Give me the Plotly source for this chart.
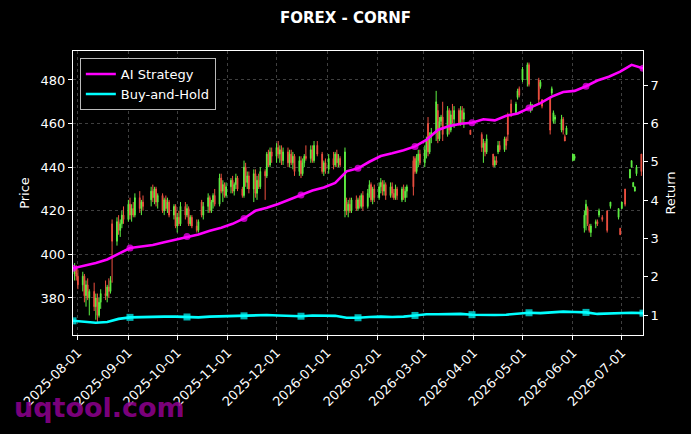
import pandas as pd
import plotly.graph_objects as go

# daily candles (trading days with gaps, as in the source chart)
dates = [
    # Jul / Aug 2025
    "2025-07-30", "2025-07-31", "2025-08-01", "2025-08-04", "2025-08-05", "2025-08-06",
    "2025-08-07", "2025-08-08", "2025-08-11", "2025-08-12", "2025-08-13", "2025-08-14",
    "2025-08-15", "2025-08-18", "2025-08-19", "2025-08-20", "2025-08-21", "2025-08-22",
    "2025-08-25", "2025-08-26", "2025-08-27", "2025-08-28", "2025-08-29",
    # Sep
    "2025-09-01", "2025-09-02", "2025-09-03", "2025-09-04", "2025-09-05", "2025-09-08",
    "2025-09-09", "2025-09-10", "2025-09-15", "2025-09-16", "2025-09-17", "2025-09-18",
    "2025-09-19", "2025-09-22", "2025-09-23", "2025-09-24", "2025-09-25", "2025-09-26",
    "2025-09-29", "2025-09-30",
    # Oct
    "2025-10-01", "2025-10-02", "2025-10-03", "2025-10-06", "2025-10-07", "2025-10-08",
    "2025-10-09", "2025-10-10", "2025-10-13", "2025-10-14", "2025-10-16", "2025-10-17",
    "2025-10-20", "2025-10-21", "2025-10-22", "2025-10-23", "2025-10-24", "2025-10-27",
    "2025-10-28", "2025-10-29", "2025-10-30", "2025-10-31",
    # Nov
    "2025-11-03", "2025-11-04", "2025-11-05", "2025-11-06", "2025-11-07", "2025-11-10",
    "2025-11-11", "2025-11-12", "2025-11-13", "2025-11-14", "2025-11-17", "2025-11-18",
    "2025-11-19", "2025-11-20", "2025-11-21", "2025-11-24", "2025-11-25", "2025-11-26",
    "2025-11-27", "2025-11-28",
    # Dec
    "2025-12-01", "2025-12-02", "2025-12-03", "2025-12-04", "2025-12-05", "2025-12-08",
    "2025-12-09", "2025-12-10", "2025-12-11", "2025-12-12", "2025-12-15", "2025-12-16",
    "2025-12-17", "2025-12-18", "2025-12-19", "2025-12-22", "2025-12-23", "2025-12-24",
    "2025-12-26", "2025-12-29", "2025-12-30", "2025-12-31",
    # Jan 2026
    "2026-01-02", "2026-01-05", "2026-01-06", "2026-01-07", "2026-01-08", "2026-01-09",
    "2026-01-12", "2026-01-13", "2026-01-14", "2026-01-15", "2026-01-16", "2026-01-19",
    "2026-01-20", "2026-01-21", "2026-01-22", "2026-01-23", "2026-01-26", "2026-01-27",
    "2026-01-28", "2026-01-29", "2026-01-30",
    # Feb
    "2026-02-02", "2026-02-03", "2026-02-04", "2026-02-05", "2026-02-06", "2026-02-09",
    "2026-02-10", "2026-02-11", "2026-02-12", "2026-02-13", "2026-02-16", "2026-02-17",
    "2026-02-18", "2026-02-19", "2026-02-23", "2026-02-24", "2026-02-25", "2026-02-26",
    "2026-02-27",
    # Mar
    "2026-03-02", "2026-03-03", "2026-03-04", "2026-03-05", "2026-03-06", "2026-03-09",
    "2026-03-10", "2026-03-11", "2026-03-12", "2026-03-13", "2026-03-16", "2026-03-17",
    "2026-03-18", "2026-03-19", "2026-03-20", "2026-03-23", "2026-03-24", "2026-03-25",
    "2026-03-26", "2026-03-30",
    # Apr
    "2026-04-06", "2026-04-07", "2026-04-08", "2026-04-09", "2026-04-13", "2026-04-14",
    "2026-04-15", "2026-04-16", "2026-04-17", "2026-04-20", "2026-04-21", "2026-04-22",
    "2026-04-24", "2026-04-27", "2026-04-28", "2026-04-29",
    # May
    "2026-05-01", "2026-05-04", "2026-05-05", "2026-05-06", "2026-05-07", "2026-05-11",
    "2026-05-12", "2026-05-13", "2026-05-18", "2026-05-19", "2026-05-20", "2026-05-21",
    "2026-05-25", "2026-05-26", "2026-05-27", "2026-05-28",
    # Jun
    "2026-06-01", "2026-06-02", "2026-06-08", "2026-06-09", "2026-06-10", "2026-06-11",
    "2026-06-12", "2026-06-15", "2026-06-16", "2026-06-17", "2026-06-19", "2026-06-22",
    "2026-06-24", "2026-06-29", "2026-06-30",
    # Jul
    "2026-07-01", "2026-07-03", "2026-07-06", "2026-07-07", "2026-07-08", "2026-07-09",
    "2026-07-10", "2026-07-13",
]

opens = [
    391, 394, 390, 386, 390, 381, 386, 380, 383, 376, 380, 372, 378, 382, 381, 385, 383, 414, 406, 415, 411, 414, 418,
    416, 423, 418, 421, 418, 426, 421, 424, 425, 429, 426, 430, 424, 427, 420, 425, 421, 424, 418, 422,
    413, 417, 414, 422, 418, 421, 414, 417, 413, 411, 424, 418, 422, 426, 420, 424, 427, 423, 435, 429, 432, 427,
    431, 434, 429, 432, 435, 430, 427, 440, 433, 436, 430, 437, 428, 434, 431, 438, 436, 446, 441, 447,
    445, 449, 446, 448, 443, 447, 442, 446, 442, 445, 438, 443, 437, 442, 445, 444, 448, 443, 450, 446, 438, 442,
    439, 444, 441, 446, 442, 444, 420, 424, 420, 423, 420, 425, 421, 425, 422, 427, 422, 428, 432, 425, 430,
    426, 431, 433, 429, 432, 427, 431, 428, 426, 430, 425, 430, 426, 429, 443, 444, 438, 443, 446,
    442, 448, 460, 447, 454, 456, 466, 453, 461, 463, 455, 466, 457, 464, 462, 466, 460, 466, 462, 457,
    455, 449, 451, 447, 446, 441, 443, 447, 450, 448, 453, 464, 469, 465, 472, 476,
    480, 480, 487, 466, 467, 480, 477, 471, 472, 474, 461, 462, 457, 462, 454, 455,
    443, 444, 412, 418, 421, 413, 410, 414, 415, 418, 417, 420, 422, 417, 412,
    421, 430, 435, 440, 431, 429, 437, 446,
]
highs = [
    396, 395, 393, 392, 391, 388, 389, 384, 387, 382, 382, 380, 384, 388, 386, 389, 390, 416, 417, 418, 416, 420, 422,
    425, 426, 423, 424, 428, 429, 425, 427, 431, 432, 431, 431, 428, 428, 426, 427, 426, 425, 423, 423,
    419, 420, 424, 424, 423, 422, 418, 418, 416, 416, 425, 424, 428, 427, 425, 428, 430, 437, 437, 434, 433, 433,
    435, 436, 433, 437, 436, 431, 443, 442, 438, 438, 439, 439, 436, 437, 440, 439, 447, 448, 449, 449,
    451, 452, 450, 450, 449, 449, 448, 448, 447, 446, 445, 445, 444, 446, 450, 450, 450, 452, 452, 447, 443, 444,
    446, 447, 447, 448, 446, 445, 449, 426, 425, 426, 426, 427, 426, 427, 428, 429, 430, 434, 433, 431, 432,
    433, 435, 434, 434, 433, 433, 433, 430, 432, 431, 431, 432, 431, 432, 445, 445, 446, 448, 448,
    450, 454, 463, 456, 458, 475, 469, 463, 464, 470, 468, 467, 466, 469, 468, 467, 468, 468, 467, 457,
    456, 453, 452, 455, 446, 445, 445, 452, 452, 454, 454, 465, 471, 470, 476, 477,
    486, 488, 488, 470, 469, 481, 480, 471, 472, 477, 466, 464, 464, 463, 455, 459,
    446, 446, 420, 425, 422, 414, 414, 416, 416, 421, 418, 420, 424, 421, 412,
    424, 430, 439, 443, 433, 431, 441, 446,
]
lows = [
    388, 388, 384, 383, 378, 376, 379, 372, 374, 370, 369, 371, 375, 379, 378, 380, 382, 387, 404, 409, 408, 412, 414,
    415, 416, 415, 417, 417, 419, 418, 420, 422, 424, 423, 422, 421, 419, 418, 420, 419, 417, 416, 412,
    410, 413, 413, 416, 417, 413, 413, 412, 410, 410, 417, 416, 419, 419, 419, 421, 422, 422, 428, 424, 426, 426,
    428, 428, 427, 430, 429, 426, 426, 431, 430, 428, 424, 426, 425, 430, 430, 425, 435, 440, 440, 442,
    442, 444, 442, 441, 441, 440, 440, 441, 439, 436, 436, 435, 436, 440, 443, 442, 442, 442, 445, 437, 436, 437,
    437, 439, 440, 440, 440, 440, 417, 418, 417, 419, 419, 420, 420, 421, 421, 420, 421, 426, 424, 423, 424,
    425, 428, 427, 427, 425, 426, 426, 425, 425, 425, 424, 425, 424, 426, 427, 437, 437, 440, 441,
    440, 444, 445, 446, 451, 452, 451, 452, 459, 452, 454, 455, 456, 460, 458, 459, 459, 460, 458, 455,
    447, 442, 445, 446, 440, 440, 441, 446, 447, 447, 448, 452, 463, 464, 471, 472,
    479, 477, 477, 465, 466, 469, 476, 467, 455, 473, 460, 460, 456, 455, 452, 455,
    443, 443, 410, 411, 413, 410, 408, 412, 413, 417, 415, 410, 421, 416, 409,
    421, 422, 435, 440, 431, 429, 436, 436,
]
closes = [
    394, 390, 386, 390, 381, 386, 380, 383, 376, 380, 372, 378, 382, 381, 385, 383, 388, 406, 415, 411, 414, 418, 416,
    423, 418, 421, 418, 426, 421, 424, 422, 429, 426, 430, 424, 427, 420, 425, 421, 424, 418, 422, 413,
    417, 414, 422, 418, 421, 414, 417, 413, 411, 415, 418, 422, 426, 420, 424, 427, 423, 435, 429, 432, 427, 431,
    434, 429, 432, 435, 430, 427, 440, 433, 436, 430, 437, 428, 434, 431, 438, 436, 446, 441, 447, 445,
    449, 446, 448, 443, 447, 442, 446, 442, 445, 438, 443, 437, 442, 445, 444, 448, 443, 450, 446, 438, 442, 439,
    444, 441, 446, 442, 444, 441, 447, 420, 423, 420, 425, 421, 425, 422, 427, 422, 428, 432, 425, 430, 426,
    431, 433, 429, 432, 427, 431, 428, 426, 430, 427, 430, 426, 429, 431, 431, 438, 443, 446, 442,
    448, 452, 447, 454, 456, 470, 453, 461, 463, 455, 466, 457, 464, 462, 466, 460, 466, 462, 465, 455,
    449, 451, 447, 453, 441, 443, 442, 450, 448, 453, 450, 455, 465, 469, 475, 473,
    485, 487, 478, 469, 468, 471, 479, 468, 457, 476, 465, 463, 462, 457, 452, 458,
    446, 445, 418, 423, 414, 411, 413, 415, 414, 420, 416, 411, 424, 421, 409,
    424, 423, 439, 443, 433, 431, 440, 438,
]

# weekly equity curves (right axis)
line_dates = pd.date_range("2025-07-29", "2026-07-14", freq="7D")
ai_strategy = [
    2.22, 2.28, 2.36, 2.45, 2.60, 2.75, 2.79, 2.83, 2.90, 2.97,
    3.05, 3.10, 3.20, 3.28, 3.38, 3.52, 3.72, 3.80, 3.90, 4.02,
    4.13, 4.25, 4.33, 4.45, 4.75, 4.83, 5.00, 5.15, 5.22, 5.30,
    5.40, 5.57, 5.83, 5.93, 5.99, 6.02, 6.11, 6.08, 6.20, 6.26,
    6.40, 6.53, 6.70, 6.82, 6.85, 6.97, 7.12, 7.22, 7.35, 7.53, 7.44,
]
buy_and_hold = [
    0.85, 0.83, 0.80, 0.82, 0.90, 0.94, 0.95, 0.96, 0.96, 0.96,
    0.95, 0.94, 0.96, 0.97, 0.97, 0.98, 0.99, 1.00, 0.99, 0.98,
    0.97, 0.99, 0.98, 0.98, 0.93, 0.93, 0.95, 0.96, 0.95, 0.96,
    0.99, 1.02, 1.02, 1.03, 1.03, 1.01, 1.00, 1.00, 1.01, 1.04,
    1.06, 1.05, 1.07, 1.09, 1.08, 1.07, 1.03, 1.04, 1.05, 1.06, 1.05,
]

FONT = "DejaVu Sans"
GRID = "rgba(140,140,140,0.45)"

# markers only on every 5th point (like markevery)
mark_sizes = [7 if i % 5 == 0 else 0 for i in range(len(line_dates))]

fig = go.Figure()

fig.add_trace(
    go.Candlestick(
        x=pd.to_datetime(dates),
        open=opens,
        high=highs,
        low=lows,
        close=closes,
        increasing={"line": {"color": "#5ef043", "width": 1}, "fillcolor": "#5ef043"},
        decreasing={"line": {"color": "#ee5040", "width": 1}, "fillcolor": "#ee5040"},
        showlegend=False,
        name="Price",
    )
)

fig.add_trace(
    go.Scatter(
        x=line_dates,
        y=ai_strategy,
        mode="lines+markers",
        name="AI Strategy",
        line={"color": "#ff00ff", "width": 2.6},
        marker={"symbol": "circle", "size": mark_sizes, "color": "#ff00ff",
                "line": {"width": 0}},
        yaxis="y2",
    )
)
fig.add_trace(
    go.Scatter(
        x=line_dates,
        y=buy_and_hold,
        mode="lines+markers",
        name="Buy-and-Hold",
        line={"color": "#00ffff", "width": 2.6},
        marker={"symbol": "square", "size": mark_sizes, "color": "#00ffff",
                "line": {"width": 0}},
        yaxis="y2",
    )
)

# watermark
fig.add_annotation(
    text="<b>uqtool.com</b>",
    xref="paper",
    yref="paper",
    x=-0.107,
    y=-0.255,
    xanchor="left",
    yanchor="middle",
    showarrow=False,
    font={"family": FONT, "size": 27, "color": "rgba(140,0,140,0.9)"},
)

fig.update_layout(
    width=691,
    height=434,
    margin={"l": 73, "r": 48, "t": 51, "b": 99},
    paper_bgcolor="black",
    plot_bgcolor="black",
    font={"family": FONT, "size": 13, "color": "white"},
    title={
        "text": "<b>FOREX - CORNF</b>",
        "x": 0.5,
        "xanchor": "center",
        "y": 0.958,
        "yanchor": "middle",
        "font": {"family": FONT, "size": 15, "color": "white"},
    },
    xaxis={
        "rangeslider": {"visible": False},
        "range": ["2025-07-29", "2026-07-14"],
        "tick0": "2025-08-01",
        "dtick": "M1",
        "tickformat": "%Y-%m-%d",
        "tickangle": -45,
        "ticks": "outside",
        "ticklen": 4,
        "tickcolor": "white",
        "showline": True,
        "linecolor": "white",
        "linewidth": 1,
        "mirror": True,
        "showgrid": True,
        "gridcolor": GRID,
        "griddash": "3px,3px",
        "gridwidth": 0.7,
        "zeroline": False,
        "automargin": False,
        "tickfont": {"size": 13},
    },
    yaxis={
        "title": {"text": "Price", "standoff": 8, "font": {"size": 13}},
        "range": [363, 493.3],
        "dtick": 20,
        "ticks": "outside",
        "ticklen": 4,
        "tickcolor": "white",
        "showline": True,
        "linecolor": "white",
        "linewidth": 1,
        "mirror": True,
        "showgrid": True,
        "gridcolor": GRID,
        "griddash": "3px,3px",
        "gridwidth": 0.7,
        "zeroline": False,
        "automargin": False,
    },
    yaxis2={
        "title": {"text": "Return", "standoff": 8, "font": {"size": 13}},
        "overlaying": "y",
        "side": "right",
        "range": [0.48, 7.89],
        "dtick": 1,
        "ticks": "outside",
        "ticklen": 4,
        "tickcolor": "white",
        "showline": True,
        "linecolor": "white",
        "showgrid": False,
        "zeroline": False,
        "automargin": False,
    },
    legend={
        "x": 0.012,
        "y": 0.975,
        "xanchor": "left",
        "yanchor": "top",
        "bgcolor": "black",
        "bordercolor": "#bbbbbb",
        "borderwidth": 1,
        "font": {"size": 13, "color": "white"},
        "tracegroupgap": 0,
    },
    showlegend=True,
)

# drop the default page margin so the figure sits at the window's corner
fig.write_html(
    "out.html",
    config={"displayModeBar": False},
    post_script="document.body.style.margin='0';document.body.style.background='black';",
)
